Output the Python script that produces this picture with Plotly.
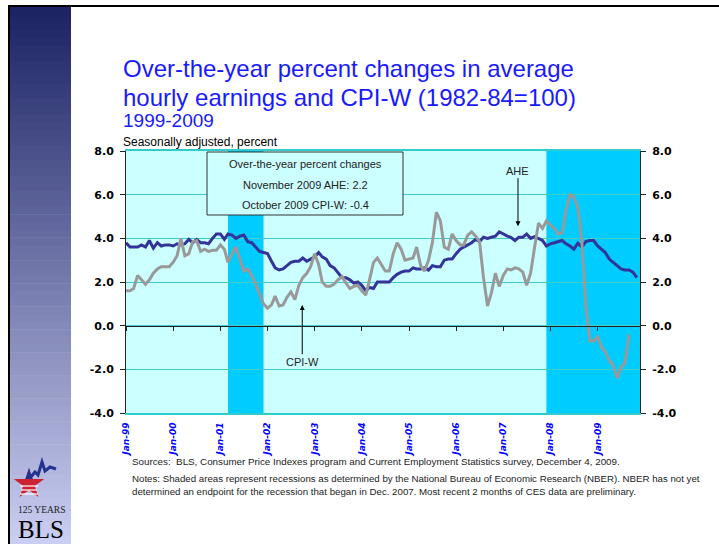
import math
import pandas as pd
import plotly.graph_objects as go

# over-the-year percent change, average hourly earnings, Jan-99 .. Nov-09
ahe = [3.8, 3.6, 3.6, 3.6, 3.7, 3.6, 3.9, 3.55, 3.8, 3.65, 3.7, 3.7,
       3.65, 3.75, 3.7, 3.75, 3.95, 3.8, 3.95, 3.8, 3.8, 3.75, 4.0, 4.2,
       4.2, 3.95, 4.2, 4.15, 4.0, 4.1, 4.15, 3.85, 3.8, 3.6, 3.4, 3.35,
       3.3, 2.95, 2.65, 2.55, 2.6, 2.75, 2.9, 2.95, 2.95, 3.1, 2.95, 3.05,
       3.15, 3.35, 3.15, 3.05, 2.75, 2.65, 2.45, 2.2, 2.2, 2.1, 1.95, 2.0,
       1.85, 1.6, 1.75, 1.7, 2.0, 2.0, 2.0, 2.0, 2.2, 2.35, 2.45, 2.5,
       2.5, 2.65, 2.6, 2.6, 2.65, 2.55, 2.75, 2.7, 2.7, 3.0, 3.05, 3.05,
       3.3, 3.5, 3.6, 3.7, 3.8, 3.95, 3.85, 4.05, 4.0, 4.05, 4.1, 4.3,
       4.2, 4.1, 4.05, 3.9, 4.05, 4.05, 4.2, 4.0, 4.08, 4.0, 3.9, 3.65,
       3.75, 3.8, 3.85, 3.9, 3.75, 3.65, 3.5, 3.78, 3.6, 3.85, 3.9, 3.9,
       3.65, 3.5, 3.35, 3.05, 2.9, 2.75, 2.6, 2.55, 2.55, 2.45, 2.2]

# over-the-year percent change, CPI-W, Jan-99 .. Oct-09
cpi_w = [1.6, 1.6, 1.7, 2.3, 2.1, 1.9, 2.1, 2.4, 2.6, 2.7, 2.7, 2.7,
         2.9, 3.2, 4.0, 3.2, 3.3, 3.85, 3.9, 3.4, 3.5, 3.4, 3.45, 3.45,
         3.7, 3.5, 2.9, 3.3, 3.6, 3.0, 2.5, 2.6, 2.3, 1.9, 1.4, 1.0,
         0.8, 0.95, 1.35, 0.9, 0.95, 1.3, 1.55, 1.2, 1.85, 2.2, 2.4, 2.7,
         3.3, 2.8, 2.0, 1.8, 1.8, 1.9, 2.1, 2.25, 1.95, 1.7, 1.8, 1.85,
         1.6, 1.4, 2.1, 2.9, 3.1, 2.8, 2.5, 2.5, 3.3, 3.8, 3.5, 3.0,
         3.05, 3.1, 3.6, 2.75, 2.5, 3.0, 3.8, 5.2, 4.8, 3.6, 3.5, 4.2,
         3.9, 3.7, 3.7, 4.15, 4.3, 4.1, 3.85, 2.2, 0.9, 1.5, 2.4, 1.8,
         2.3, 2.6, 2.55, 2.65, 2.6, 2.45, 1.85, 2.4, 3.6, 4.7, 4.45, 4.8,
         4.6, 4.45, 4.2, 4.25, 5.3, 6.0, 5.9, 5.4, 3.8, 0.9, -0.7, -0.7,
         -0.5, -1.0, -1.2, -1.6, -1.8, -2.4, -1.9, -1.7, -0.4]

start_month = "1999-01-01"
recessions = [("2001-03-01", "2001-12-01"), ("2007-12-01", "2010-01-01")]
years = list(range(1999, 2010))
x_tick_labels = ["Jan-%02d" % (y % 100) for y in years]
y_ticks = [-4, -2, 0, 2, 4, 6, 8]
y_tick_labels = ["-4.0", "-2.0", "0.0", "2.0", "4.0", "6.0", "8.0"]

months_ahe = pd.date_range(start_month, periods=len(ahe), freq="MS")
months_cpi = pd.date_range(start_month, periods=len(cpi_w), freq="MS")
x_ticks = pd.to_datetime(["%d-01-01" % y for y in years])
x_range = ["1999-01-01", "2009-11-25"]

L, R, T, B = 126, 79, 151, 131
W, H = 719, 544
PW, PH = W - L - R, H - T - B


def px(x):
    return (x - L) / PW


def py(y):
    return (H - B - y) / PH


fig = go.Figure()
fig.add_trace(go.Scatter(x=months_ahe, y=ahe, mode="lines", name="AHE",
                         line=dict(color="#333399", width=3), xaxis="x", yaxis="y"))
fig.add_trace(go.Scatter(x=months_cpi, y=cpi_w, mode="lines", name="CPI-W",
                         line=dict(color="#999999", width=3), xaxis="x2", yaxis="y2"))

shapes = []
# sidebar gradient
top_c, bot_c = (28, 36, 100), (202, 206, 242)
n = 70
y0, y1 = 7, 544
for i in range(n):
    t = i / (n - 1)
    c = tuple(int(top_c[k] + (bot_c[k] - top_c[k]) * t) for k in range(3))
    ya = y0 + (y1 - y0) * i / n
    yb = y0 + (y1 - y0) * (i + 1) / n + 0.6
    shapes.append(dict(type="rect", xref="paper", yref="paper", x0=px(10), x1=px(71),
                       y0=py(ya), y1=py(yb), line=dict(width=0), fillcolor="rgb(%d,%d,%d)" % c,
                       layer="below"))
# page border
shapes.append(dict(type="line", xref="paper", yref="paper", x0=px(8), x1=px(719), y0=py(6), y1=py(6),
                   line=dict(color="black", width=2)))
shapes.append(dict(type="line", xref="paper", yref="paper", x0=px(9), x1=px(9), y0=py(5), y1=py(544),
                   line=dict(color="black", width=2)))

# recessions
for a, b in recessions:
    shapes.append(dict(type="rect", xref="x", yref="paper", x0=a, x1=b, y0=0, y1=1,
                       fillcolor="#00ccff", line=dict(width=0), layer="between"))

# info box
shapes.append(dict(type="rect", xref="paper", yref="paper", x0=px(207), x1=px(403), y0=py(152), y1=py(215),
                   fillcolor="#ccffff", line=dict(color="#333333", width=1)))

# BLS logo star
cx, cy, Ro = 29, 484, 16
Ri = Ro * 0.382
pts = []
for k in range(10):
    ang = math.radians(90 + 36 * k)
    r = Ro if k % 2 == 0 else Ri
    pts.append((cx + r * math.cos(ang), cy - r * math.sin(ang)))
path = "M " + " L ".join("%f,%f" % (px(a), py(b)) for a, b in pts) + " Z"
shapes.append(dict(type="path", xref="paper", yref="paper", path=path,
                   fillcolor="#cc2233", line=dict(width=0)))
top_pts = [pts[9], pts[0], pts[1], pts[2], pts[8]]
path = "M " + " L ".join("%f,%f" % (px(a), py(b)) for a, b in top_pts) + " Z"
shapes.append(dict(type="path", xref="paper", yref="paper", path=path,
                   fillcolor="#22338f", line=dict(width=0)))
for yy, hw in [(486, 9), (490, 8), (494, 9)]:
    shapes.append(dict(type="line", xref="paper", yref="paper", x0=px(cx - hw), x1=px(cx + hw),
                       y0=py(yy), y1=py(yy), line=dict(color="white", width=1.2)))
zig = [(30, 478), (35, 472), (38, 475), (42, 462), (45, 471), (50, 467), (56, 469)]
path = "M " + " L ".join("%f,%f" % (px(a), py(b)) for a, b in zig)
shapes.append(dict(type="path", xref="paper", yref="paper", path=path,
                   line=dict(color="#22338f", width=3)))

narrow = "Liberation Sans Narrow, Arial Narrow, Liberation Sans, sans-serif"
annotations = [
    dict(text="Over-the-year percent changes in average", x=px(121), y=py(68),
         font=dict(family=narrow, size=24, color="#1a1aff")),
    dict(text="hourly earnings and CPI-W (1982-84=100)", x=px(121), y=py(97),
         font=dict(family=narrow, size=24, color="#1a1aff")),
    dict(text="1999-2009", x=px(121), y=py(120),
         font=dict(family=narrow, size=19, color="#1a1aff")),
    dict(text="Seasonally adjusted, percent", x=px(121), y=py(142),
         font=dict(family=narrow, size=12, color="black")),
    dict(text="Sources:  BLS, Consumer Price Indexes program and Current Employment Statistics survey, December 4, 2009.",
         x=px(130), y=py(461), font=dict(family=narrow, size=9.8, color="#222222")),
    dict(text="Notes: Shaded areas represent recessions as determined by the National Bureau of Economic Research (NBER). NBER has not yet<br>"
              "determined an endpoint for the recession that began in Dec. 2007. Most recent 2 months of CES data are preliminary.",
         x=px(130), y=py(484.5), align="left", font=dict(family=narrow, size=9.7, color="#222222")),
    dict(text="125 YEARS", x=px(41), y=py(510), xanchor="center",
         font=dict(family="Liberation Serif, serif", size=9.5, color="#222222")),
    dict(text="BLS", x=px(41), y=py(545), xanchor="center", yanchor="bottom",
         font=dict(family="Liberation Serif, serif", size=25, color="black")),
]
for i, line in enumerate(["Over-the-year percent changes", "November 2009 AHE: 2.2", "October 2009 CPI-W: -0.4"]):
    annotations.append(dict(text=line, x=px(305), y=py(164 + 20.5 * i), xanchor="center",
                            font=dict(family="Liberation Sans, Arial", size=11, color="#222222")))
for a in annotations:
    a.setdefault("xref", "paper")
    a.setdefault("yref", "paper")
    a.setdefault("xanchor", "left")
    a.setdefault("yanchor", "middle")
    a["showarrow"] = False

# arrow labels
annotations.append(dict(text="AHE", x="2007-04-25", y=4.55, ax="2007-04-25", ay=7.1, xref="x", yref="y",
                        axref="x", ayref="y", showarrow=True, arrowhead=2, arrowsize=1, arrowwidth=1,
                        arrowcolor="black", font=dict(family="Liberation Sans, Arial", size=11, color="#222222")))
annotations.append(dict(text="CPI-W", x="2002-09-27", y=0.95, ax="2002-09-27", ay=-1.65, xref="x", yref="y",
                        axref="x", ayref="y", showarrow=True, arrowhead=2, arrowsize=1, arrowwidth=1,
                        arrowcolor="black", font=dict(family="Liberation Sans, Arial", size=11, color="#222222")))

tick_font = dict(family="DejaVu Sans", size=11, color="black", weight="bold")
fig.update_layout(
    width=W, height=H, margin=dict(l=L, r=R, t=T, b=B),
    paper_bgcolor="white", plot_bgcolor="#ccffff", showlegend=False,
    shapes=shapes, annotations=annotations,
    xaxis=dict(type="date", range=x_range, tickvals=x_ticks, ticktext=x_tick_labels, tickangle=-90,
               tickfont=dict(family="DejaVu Sans", size=9, color="#0000ff", weight="bold", style="italic"),
               ticks="", ticklabelstandoff=4, showgrid=False, showline=True, linecolor="#33cccc",
               linewidth=2, mirror=True, zeroline=False),
    xaxis2=dict(type="date", range=x_range, overlaying="x", anchor="free", position=1 / 3,
                tickvals=x_ticks, showticklabels=False, ticks="outside", ticklen=4, tickcolor="#222222",
                showline=True, linecolor="#222222", linewidth=1, showgrid=False, zeroline=False),
    yaxis=dict(range=[-4, 8], tickvals=y_ticks, ticktext=y_tick_labels, tickfont=tick_font,
               ticks="outside", ticklen=5, tickcolor="#222222", showline=True, linecolor="#222222",
               linewidth=1, showgrid=True, gridcolor="#40cccc", gridwidth=1, zeroline=False,
               ticklabelstandoff=4),
    yaxis2=dict(range=[-4, 8], overlaying="y", side="right", anchor="x", tickvals=y_ticks,
                ticktext=y_tick_labels, tickfont=tick_font, ticks="outside", ticklen=5,
                tickcolor="#222222", showline=True, linecolor="#222222", linewidth=1,
                showgrid=False, zeroline=False, ticklabelstandoff=4),
)

fig.write_html("out.html", config={"displayModeBar": False},
               post_script="document.body.style.margin='0px';")
